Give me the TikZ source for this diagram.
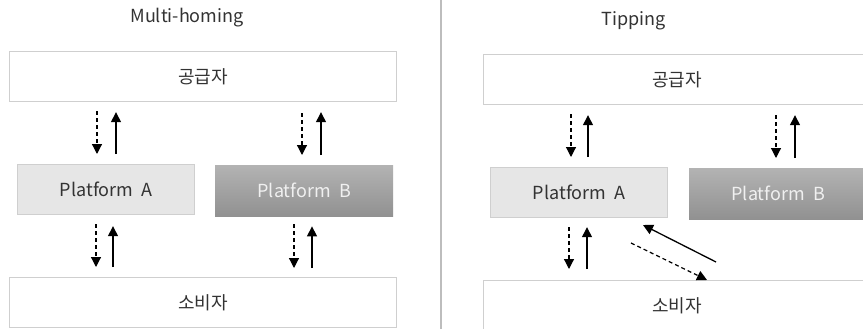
\documentclass[tikz,border=0pt]{standalone}
\usepackage{fontspec}
\setmainfont{Noto Sans CJK KR}
\usetikzlibrary{arrows.meta}
\definecolor{txt}{HTML}{333333}
\definecolor{bord}{HTML}{CFCFCF}
\definecolor{pafill}{HTML}{E6E6E6}
\definecolor{pbtop}{HTML}{B3B3B3}
\definecolor{pbbot}{HTML}{919191}
\definecolor{pbtxt}{HTML}{F0F0F0}
\definecolor{divc}{HTML}{BDBDBD}
\tikzset{
  lbl/.style={font=\fontsize{18}{21}\selectfont, text=txt},
  wbox/.style={draw=bord, line width=1.2pt, fill=white, minimum width=387pt, minimum height=50pt, anchor=north west, lbl},
  pabox/.style={draw=bord, line width=1.2pt, fill=pafill, minimum width=177pt, minimum height=50pt, anchor=north west, lbl},
  pbbox/.style={draw=none, top color=pbtop, bottom color=pbbot, minimum width=178pt, minimum height=51pt, anchor=north west, font=\fontsize{18}{21}\selectfont, text=pbtxt},
  flow/.style={line width=1.3pt, black, -{Triangle[length=10pt,width=10pt]}},
  dflow/.style={flow, line width=1.2pt, dash pattern=on 4pt off 3pt}
}
\begin{document}
\begin{tikzpicture}[x=1pt,y=-1pt]
\useasboundingbox (0,0) rectangle (863,329);
\clip (0,0) rectangle (863,329);
\fill[white] (0,0) rectangle (863,329);
% divider
\draw[divc, line width=1.5pt] (441,0) -- (441,329);
% ---------- Left: Multi-homing ----------
\node[lbl] (t1) at (187,18) {Multi-homing};
\node[wbox] (supL) at (9,51) {공급자};
\node[pabox] (paL) at (17,164) {Platform\ \ A};
\node[pbbox] (pbL) at (215,165) {Platform\ \ B};
\node[wbox] (conL) at (9,277) {소비자};
\draw[dflow] (97,0 |- supL.south) -- (97,0 |- paL.north) [shorten <=9pt, shorten >=10pt];
\draw[flow] (116,0 |- paL.north) -- (116,0 |- supL.south) [shorten <=10pt, shorten >=10pt];
\draw[dflow] (302,0 |- supL.south) -- (302,0 |- pbL.north) [shorten <=11pt, shorten >=10pt];
\draw[flow] (321,0 |- pbL.north) -- (321,0 |- supL.south) [shorten <=10pt, shorten >=10pt];
\draw[dflow] (96,0 |- paL.south) -- (96,0 |- conL.north) [shorten <=9pt, shorten >=10pt];
\draw[flow] (113,0 |- conL.north) -- (113,0 |- paL.south) [shorten <=10pt, shorten >=11pt];
\draw[dflow] (294,0 |- pbL.south) -- (294,0 |- conL.north) [shorten <=8pt, shorten >=9pt];
\draw[flow] (312,0 |- conL.north) -- (312,0 |- pbL.south) [shorten <=9pt, shorten >=10pt];
% ---------- Right: Tipping ----------
\node[lbl] (t2) at (634,21) {Tipping};
\node[wbox] (supR) at (483,54) {공급자};
\node[pabox] (paR) at (490,167) {Platform\ \ A};
\node[pbbox] (pbR) at (689,168) {Platform\ \ B};
\node[wbox] (conR) at (483,280) {소비자};
\draw[dflow] (571,0 |- supR.south) -- (571,0 |- paR.north) [shorten <=9pt, shorten >=10pt];
\draw[flow] (588,0 |- paR.north) -- (588,0 |- supR.south) [shorten <=10pt, shorten >=10pt];
\draw[dflow] (776,0 |- supR.south) -- (776,0 |- pbR.north) [shorten <=10pt, shorten >=10pt];
\draw[flow] (795,0 |- pbR.north) -- (795,0 |- supR.south) [shorten <=10pt, shorten >=10pt];
\draw[dflow] (569,0 |- paR.south) -- (569,0 |- conR.north) [shorten <=9pt, shorten >=11pt];
\draw[flow] (587,0 |- conR.north) -- (587,0 |- paR.south) [shorten <=11pt, shorten >=9pt];
\coordinate (s1) at (716,262);
\coordinate (e1) at (643,225);
\coordinate (s2) at (631,243);
\coordinate (e2) at (707,280);
\draw[flow] (s1) -- (e1);
\draw[dflow] (s2) -- (e2);
\end{tikzpicture}
\end{document}
